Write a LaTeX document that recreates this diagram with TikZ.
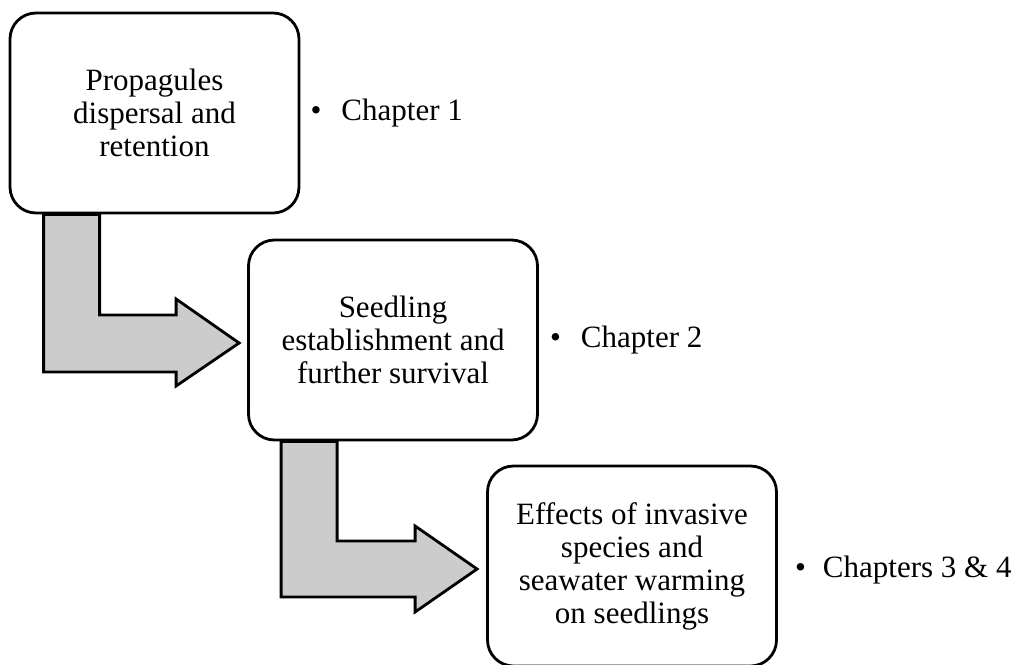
\documentclass[tikz,border=0pt]{standalone}
\usepackage{fontspec}
\setmainfont{Liberation Serif}
\usetikzlibrary{calc}
\begin{document}
\begin{tikzpicture}[x=1pt,y=-1pt,
  stagebox/.style={draw=black, line width=2.8pt, fill=white, rounded corners=26pt,
    minimum width=289pt, minimum height=200pt, align=center, inner sep=0pt,
    font=\fontsize{31}{33}\selectfont},
  bentarrow/.style={draw=black, line width=2.8pt, fill=black!20, line join=miter},
  chap/.style={anchor=west, inner sep=0pt, font=\fontsize{31}{33}\selectfont}]
\useasboundingbox (0,0) rectangle (1022,664);
\node[stagebox] (b1) at (154.5,113) {Propagules\\dispersal and\\retention};
\node[stagebox] (b2) at (393,340) {Seedling\\establishment and\\further survival};
\node[stagebox] (b3) at (632,566) {Effects of invasive\\species and\\seawater warming\\on seedlings};
% bent arrow 1
\coordinate (a1s) at ($(b1.south west)+(35,0)$);
\coordinate (a1t) at ($(b2.west)+(-8,3)$);
\draw[bentarrow] (a1s) |- ($(a1t)+(-63,29)$) -- ($(a1t)+(-63,43)$) -- (a1t)
  -- ($(a1t)+(-63,-44)$) -- ($(a1t)+(-63,-28)$) -| ($(a1s)+(56,0)$) -- cycle;
% bent arrow 2
\coordinate (a2s) at ($(b2.south west)+(34,0)$);
\coordinate (a2t) at ($(b3.west)+(-9,3)$);
\draw[bentarrow] (a2s) |- ($(a2t)+(-62,28)$) -- ($(a2t)+(-62,43)$) -- (a2t)
  -- ($(a2t)+(-62,-43)$) -- ($(a2t)+(-62,-28)$) -| ($(a2s)+(56,0)$) -- cycle;
% chapter labels
\node[chap] (c1) at ($(b1.east)+(10,0)$) {•\hspace{20pt}Chapter 1};
\node[chap] (c2) at ($(b2.east)+(11,0)$) {•\hspace{20pt}Chapter 2};
\node[chap] (c3) at ($(b3.east)+(17,4)$) {•\hspace{17pt}Chapters 3 \& 4};
\end{tikzpicture}
\end{document}
